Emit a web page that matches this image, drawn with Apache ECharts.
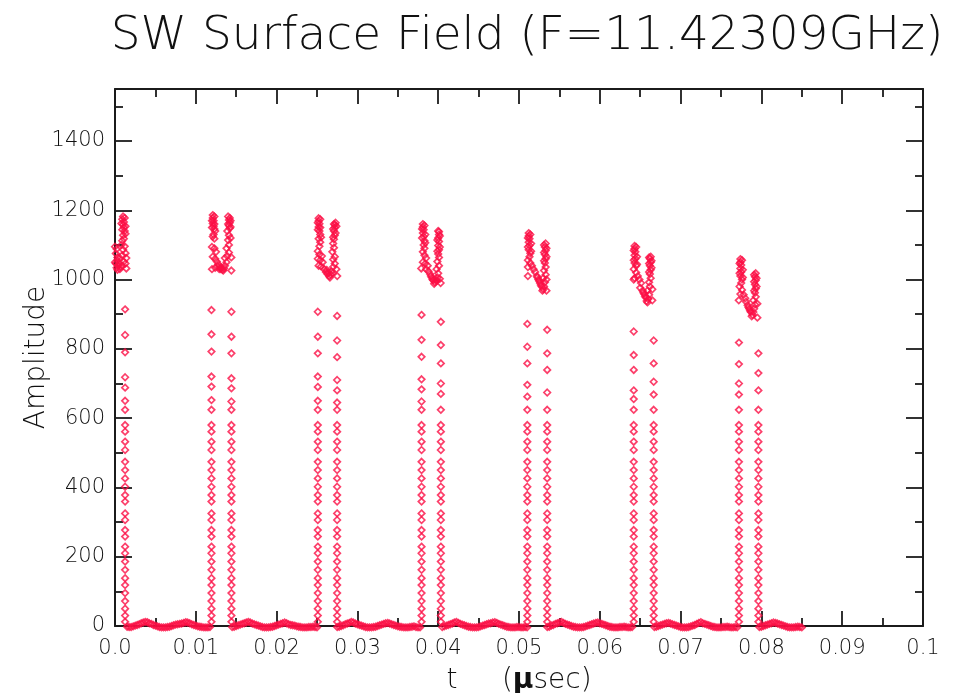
<!DOCTYPE html>
<html>
<head>
<meta charset="utf-8">
<title>SW Surface Field</title>
<script src="https://cdn.jsdelivr.net/npm/echarts/dist/echarts.min.js"></script>
<style>
  html, body { margin: 0; padding: 0; background: #fff; }
  #chart { width: 954px; height: 693px; }
</style>
</head>
<body>
<div id="chart"></div>
<script>
// time (usec) of the left / right edge column of each pulse
var edgeLeftT  = [null, 0.01194, 0.02510, 0.03794, 0.05103, 0.06420, 0.07722];
var edgeRightT = [0.00125, 0.01441, 0.02749, 0.04033, 0.05349, 0.06667, 0.07963];

// upper points of each edge column (they differ per pulse)
var edgeTopL = [[], [912, 842, 792, 720, 691, 652], [907, 835, 787, 720, 690, 650], [898, 826, 777, 712, 683, 648],
  [872, 806, 758, 696, 662], [850, 782, 739, 680, 655], [818, 756, 700, 668]];
var edgeTopR = [[914, 840, 790, 718, 688, 650], [907, 835, 787, 715, 686, 648], [895, 824, 776, 710, 680, 645],
  [878, 811, 758, 700, 670], [855, 787, 739, 674], [824, 758, 705, 668], [787, 730, 680]];

// lower part of the edge columns, same look on every pulse
var edgeLow = [624, 580, 561, 532, 508, 474, 450, 426, 402, 378, 359, 325, 306, 277, 258, 229, 210,
  186, 162, 138, 118, 95, 72, 50, 30, 12];

// baseline samples, one every 0.00025 usec from t = 0 (null while the pulse is up)
var baseStep = 0.00025;
var baseAmp = [
  null, null, null, null, null, null, -2, -3, -3, -1, 1, 3, 5, 8, 10, 12, 11, 8, 6, 3,
  1, -1, -3, -4, -4, -4, -3, -2, 0, 2, 4, 5, 6, 7, 9, 11, 10, 8, 5, 3,
  1, -1, -2, -3, -4, -4, -4, -3, null, null, null, null, null, null, null, null, null, null, -3, -2,
  0, 2, 4, 6, 8, 10, 12, 10, 7, 5, 3, 1, -1, -3, -4, -4, -4, -3, -2, 0,
  2, 4, 6, 8, 10, 8, 5, 3, 2, 1, -1, -2, -3, -4, -4, -4, -3, -3, -2, -3,
  -4, null, null, null, null, null, null, null, null, null, -3, -2, 0, 2, 5, 7, 9, 12, 10, 7,
  5, 3, 1, -1, -3, -4, -4, -4, -3, -2, 0, 2, 4, 6, 8, 9, 7, 5, 3, 1,
  -1, -2, -3, -4, -4, -4, -3, -2, -1, -3, -4, -4, null, null, null, null, null, null, null, null,
  null, null, -3, -1, 1, 3, 5, 7, 10, 12, 9, 6, 4, 2, 0, -2, -3, -4, -4, -4,
  -3, -1, 1, 3, 5, 7, 8, 10, 11, 9, 6, 4, 2, 0, -2, -3, -4, -4, -4, -3,
  -3, -4, -4, -3, -4, null, null, null, null, null, null, null, null, null, -3, -2, 1, 3, 6, 8,
  10, 12, 9, 6, 4, 2, 0, -2, -3, -4, -4, -4, -3, -1, 1, 3, 5, 7, 9, 10,
  8, 6, 4, 2, 0, -2, -3, -4, -4, -4, -3, -3, -2, -3, -4, -4, -3, null, null, null,
  null, null, null, null, null, null, null, -3, -2, 0, 2, 4, 6, 8, 9, 7, 5, 3, 1, -1,
  -3, -4, -4, -4, -3, -1, 1, 3, 6, 9, 11, 8, 6, 4, 2, 0, -2, -3, -4, -4,
  -4, -3, -3, -2, -3, -4, -4, -3, -4, null, null, null, null, null, null, null, null, null, null, -3,
  -2, 0, 2, 4, 6, 8, 10, 9, 7, 5, 3, 1, -1, -3, -4, -4, -4, -3, -2, -3, -4
];

// top clusters of each pulse [t, amplitude]
var clusterP1 = [[0.0010,1182],[0.0009,1174],[0.0011,1166],[0.0010,1158],[0.0011,1150],[0.0012,1140],[0.0010,1128],
  [0.0011,1118],[0.0008,1100],[0.0012,1096],[0.0010,1086],[0.0013,1076],[0.0009,1070],[0.0014,1062],[0.0006,1062],
  [0.0011,1052],[0.0003,1055],[0.0001,1046],[0.0004,1040],[0.0002,1034],[0.0006,1030],[0.0009,1040],[0.0013,1046],
  [0.0014,1032],[0.0000,1095],[0.0001,1075],
  [0.0012,1178],[0.0008,1162],[0.0013,1154],[0.0009,1144],[0.0013,1132],[0.0009,1112],[0.0002,1088],[0.0003,1064],
  [0.0000,1050],[0.0005,1046],[0.0007,1036],[0.0003,1028]];
var clusterP2 = [[0.0121,1186],[0.0121,1178],[0.0122,1170],[0.0121,1162],[0.0122,1154],[0.0123,1146],[0.0122,1130],
  [0.0123,1118],[0.0120,1094],[0.0123,1090],[0.0125,1080],[0.0121,1066],[0.0124,1060],[0.0126,1052],[0.0128,1044],
  [0.0130,1036],[0.0131,1030],[0.0133,1028],[0.0135,1032],[0.0136,1040],[0.0138,1050],[0.0136,1062],[0.0139,1068],
  [0.0141,1078],[0.0138,1090],[0.0141,1100],[0.0140,1114],[0.0141,1128],[0.0142,1148],[0.0141,1156],[0.0142,1164],
  [0.0141,1172],[0.0142,1178],[0.0144,1064],[0.0144,1026],[0.0120,1030],[0.0124,1034],
  [0.0123,1182],[0.0120,1170],[0.0123,1160],[0.0120,1150],[0.0124,1140],[0.0121,1124],[0.0127,1038],[0.0129,1030],
  [0.0132,1034],[0.0134,1026],[0.0140,1182],[0.0143,1170],[0.0140,1160],[0.0143,1152],[0.0139,1140],[0.0143,1120]];
var clusterP3 = [[0.0252,1177],[0.0252,1169],[0.0253,1161],[0.0252,1152],[0.0253,1140],[0.0254,1130],[0.0252,1118],
  [0.0254,1108],[0.0253,1096],[0.0251,1082],[0.0253,1072],[0.0256,1068],[0.0251,1060],[0.0254,1056],[0.0257,1050],
  [0.0252,1040],[0.0255,1038],[0.0259,1030],[0.0261,1022],[0.0263,1016],[0.0265,1010],[0.0267,1014],[0.0268,1024],
  [0.0270,1036],[0.0272,1046],[0.0270,1058],[0.0272,1066],[0.0269,1080],[0.0271,1092],[0.0270,1104],[0.0271,1116],
  [0.0272,1128],[0.0271,1140],[0.0272,1150],[0.0272,1158],[0.0273,1164],[0.0274,1030],[0.0275,1010],
  [0.0254,1174],[0.0251,1164],[0.0254,1150],[0.0251,1144],[0.0255,1122],[0.0262,1028],[0.0264,1020],[0.0266,1006],
  [0.0269,1018],[0.0271,1160],[0.0274,1154],[0.0270,1146],[0.0273,1134],[0.0270,1122]];
var clusterP4 = [[0.0381,1160],[0.0381,1152],[0.0382,1144],[0.0381,1134],[0.0382,1124],[0.0383,1112],[0.0382,1100],
  [0.0383,1090],[0.0381,1080],[0.0383,1070],[0.0385,1062],[0.0381,1050],[0.0384,1046],[0.0387,1040],[0.0385,1030],
  [0.0388,1024],[0.0390,1016],[0.0392,1006],[0.0394,998],[0.0396,992],[0.0398,996],[0.0399,1006],[0.0400,1018],
  [0.0398,1030],[0.0401,1040],[0.0399,1052],[0.0401,1064],[0.0400,1074],[0.0401,1086],[0.0400,1098],[0.0401,1110],
  [0.0400,1120],[0.0401,1130],[0.0401,1138],[0.0402,1002],[0.0403,990],[0.0379,1032],
  [0.0383,1156],[0.0380,1146],[0.0384,1130],[0.0380,1120],[0.0384,1106],[0.0391,1010],[0.0393,1000],[0.0395,988],
  [0.0397,1000],[0.0400,1140],[0.0402,1126],[0.0399,1114],[0.0402,1094],[0.0399,1082]];
var clusterP5 = [[0.0512,1134],[0.0512,1126],[0.0513,1118],[0.0512,1108],[0.0513,1098],[0.0512,1086],[0.0514,1076],
  [0.0513,1066],[0.0511,1056],[0.0514,1048],[0.0511,1036],[0.0516,1040],[0.0518,1030],[0.0520,1022],[0.0522,1010],
  [0.0524,1000],[0.0526,990],[0.0528,980],[0.0530,972],[0.0531,980],[0.0532,992],[0.0530,1004],[0.0533,1014],
  [0.0531,1026],[0.0533,1036],[0.0532,1048],[0.0533,1060],[0.0532,1072],[0.0533,1084],[0.0532,1094],[0.0533,1104],
  [0.0534,968],[0.0534,1000],[0.0511,1010],
  [0.0514,1130],[0.0511,1120],[0.0515,1104],[0.0511,1094],[0.0515,1082],[0.0523,1006],[0.0525,996],[0.0527,984],
  [0.0529,968],[0.0531,1100],[0.0534,1090],[0.0531,1078],[0.0534,1066],[0.0531,1054]];
var clusterP6 = [[0.0643,1097],[0.0643,1089],[0.0644,1080],[0.0643,1070],[0.0644,1060],[0.0643,1048],[0.0645,1040],
  [0.0642,1030],[0.0645,1020],[0.0647,1010],[0.0643,1004],[0.0649,1000],[0.0651,990],[0.0650,976],[0.0653,968],
  [0.0655,958],[0.0657,948],[0.0658,938],[0.0660,944],[0.0661,956],[0.0659,968],[0.0662,980],[0.0661,992],
  [0.0663,1004],[0.0662,1016],[0.0663,1028],[0.0662,1040],[0.0663,1050],[0.0662,1060],[0.0663,1066],[0.0665,940],
  [0.0665,972],[0.0642,1000],
  [0.0645,1094],[0.0642,1084],[0.0646,1066],[0.0642,1056],[0.0646,1044],[0.0654,962],[0.0656,952],[0.0659,934],
  [0.0661,1064],[0.0664,1054],[0.0661,1046],[0.0664,1034],[0.0661,1022]];
var clusterP7 = [[0.0774,1059],[0.0774,1050],[0.0775,1042],[0.0774,1032],[0.0775,1022],[0.0774,1010],[0.0776,1000],
  [0.0775,990],[0.0773,980],[0.0776,970],[0.0774,958],[0.0778,956],[0.0780,946],[0.0781,936],[0.0783,926],
  [0.0785,916],[0.0787,906],[0.0789,898],[0.0790,906],[0.0791,916],[0.0792,928],[0.0790,940],[0.0793,950],
  [0.0792,962],[0.0793,974],[0.0792,986],[0.0793,998],[0.0792,1008],[0.0793,1018],[0.0795,890],[0.0795,930],
  [0.0772,940],
  [0.0776,1056],[0.0773,1046],[0.0777,1028],[0.0773,1018],[0.0777,1006],[0.0784,920],[0.0786,910],[0.0788,894],
  [0.0791,1014],[0.0794,1004],[0.0791,994],[0.0794,980],[0.0791,968]];

var clusters = [clusterP1, clusterP2, clusterP3, clusterP4, clusterP5, clusterP6, clusterP7];

// build the point list
var points = [];
baseAmp.forEach(function (v, i) {
  if (v !== null) points.push([i * baseStep, v]);
});
function addColumn(t, tops) {
  if (t === null) return;
  tops.concat(edgeLow).forEach(function (a) { points.push([t, a]); });
}
for (var k = 0; k < edgeLeftT.length; k++) {
  addColumn(edgeLeftT[k], edgeTopL[k]);
  addColumn(edgeRightT[k], edgeTopR[k]);
}
clusters.forEach(function (c) { points = points.concat(c); });

var inkColor = '#1b1b1b';
var fontFam = 'DejaVu Sans';
var lineSt = { color: inkColor, width: 2 };
var tickSt = { color: inkColor, width: 1.8 };

function xLabel(v) {
  if (Math.abs(v) < 1e-9) return '0.0';
  if (Math.abs(v - 0.1) < 1e-9) return '0.1';
  return v.toFixed(2);
}

function yLabel(v) {
  return String(v);
}

function frameY(pos, withLabels) {
  return {
    type: 'value', min: 0, max: 1550, interval: 200, position: pos,
    axisLine: { show: true, onZero: false, lineStyle: lineSt },
    axisTick: { inside: true, length: 17, lineStyle: tickSt },
    minorTick: { show: true, splitNumber: 2, length: 8, lineStyle: tickSt },
    splitLine: { show: false },
    axisLabel: withLabels
      ? { formatter: yLabel, showMaxLabel: false, margin: 10, fontFamily: fontFam, fontWeight: 200, fontSize: 21, color: '#111' }
      : { show: false }
  };
}

var yLeft = frameY('left', true);
yLeft.name = 'Amplitude';
yLeft.nameLocation = 'middle';
yLeft.nameGap = 64;
yLeft.nameMoveOverlap = false;
yLeft.nameTextStyle = { fontFamily: fontFam, fontWeight: 200, fontSize: 28, color: '#111' };

var option = {
  backgroundColor: '#ffffff',
  animation: false,
  title: {
    text: 'SW Surface Field (F=11.42309GHz)',
    left: 522,
    top: 8,
    textAlign: 'center',
    textStyle: { fontFamily: fontFam, fontWeight: 200, fontSize: 47, color: '#111' }
  },
  grid: { left: 115, right: 31, top: 89, bottom: 67, containLabel: false, outerBoundsMode: 'none' },
  xAxis: [
    {
      type: 'value', min: 0, max: 0.1, interval: 0.01, position: 'bottom',
      axisLine: { show: true, onZero: false, lineStyle: lineSt },
      axisTick: { inside: true, length: 15, lineStyle: tickSt },
      minorTick: { show: true, splitNumber: 2, length: 8, lineStyle: tickSt },
      splitLine: { show: false },
      axisLabel: { formatter: xLabel, margin: 12, fontFamily: fontFam, fontWeight: 200, fontSize: 21, color: '#111' },
      name: '{t|t}     ({mu|μ}sec)',
      nameLocation: 'middle',
      nameGap: 41,
      nameMoveOverlap: false,
      nameTextStyle: {
        fontFamily: fontFam, fontWeight: 200, fontSize: 28, color: '#111',
        rich: {
          t: { fontFamily: fontFam, fontWeight: 200, fontSize: 28, color: '#111' },
          mu: { fontFamily: fontFam, fontWeight: 'bold', fontSize: 28, color: '#111' }
        }
      }
    },
    {
      type: 'value', min: 0, max: 0.1, interval: 0.01, position: 'top',
      axisLine: { show: true, onZero: false, lineStyle: lineSt },
      axisTick: { inside: true, length: 15, lineStyle: tickSt },
      minorTick: { show: true, splitNumber: 2, length: 8, lineStyle: tickSt },
      splitLine: { show: false },
      axisLabel: { show: false }
    }
  ],
  yAxis: [yLeft, frameY('right', false)],
  series: [{
    type: 'scatter',
    xAxisIndex: 0,
    yAxisIndex: 0,
    data: points,
    symbol: 'diamond',
    symbolSize: 6.5,
    clip: false,
    silent: true,
    itemStyle: { color: 'rgba(255,255,255,0)', borderColor: '#fb0f45', borderWidth: 1.7 }
  }]
};

var myChart = echarts.init(document.getElementById('chart'), null, { renderer: 'canvas' });
myChart.setOption(option);
</script>
</body>
</html>
